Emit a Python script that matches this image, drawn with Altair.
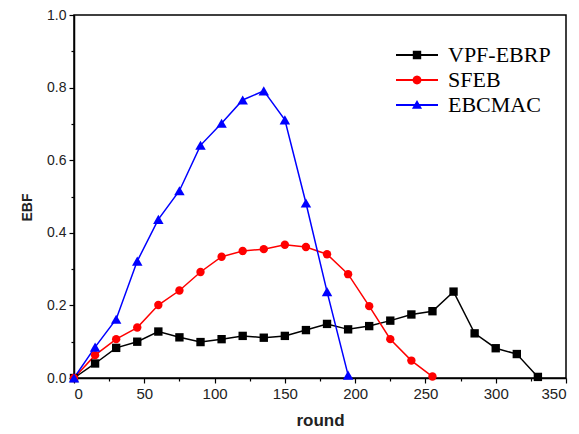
import math
import altair as alt
import pandas as pd

# ---- data ----
series_names = ["VPF-EBRP", "SFEB", "EBCMAC"]
series_colors = ["#000000", "#ff0000", "#0000ff"]

vpf_rounds = [0, 15, 30, 45, 60, 75, 90, 105, 120, 135, 150, 165, 180, 195,
              210, 225, 240, 255, 270, 285, 300, 315, 330]
vpf_ebf = [0.0, 0.040, 0.083, 0.100, 0.128, 0.112, 0.099, 0.107, 0.116, 0.111,
           0.116, 0.132, 0.149, 0.134, 0.143, 0.158, 0.175, 0.184, 0.238, 0.123,
           0.082, 0.066, 0.003]

sfeb_rounds = [0, 15, 30, 45, 60, 75, 90, 105, 120, 135, 150, 165, 180, 195,
               210, 225, 240, 255]
sfeb_ebf = [0.0, 0.063, 0.107, 0.139, 0.201, 0.241, 0.292, 0.334, 0.350, 0.355,
            0.367, 0.361, 0.341, 0.286, 0.198, 0.107, 0.048, 0.004]

ebcmac_rounds = [0, 15, 30, 45, 60, 75, 90, 105, 120, 135, 150, 165, 180, 195]
ebcmac_ebf = [0.0, 0.085, 0.162, 0.322, 0.437, 0.516, 0.641, 0.702, 0.766,
              0.791, 0.711, 0.482, 0.238, 0.008]

x_ticks = [0, 25, 50, 75, 100, 125, 150, 175, 200, 225, 250, 275, 300, 325, 350]
y_ticks = [0.0, 0.1, 0.2, 0.3, 0.4, 0.5, 0.6, 0.7, 0.8, 0.9, 1.0]

marker_shapes = ["square", "circle", "triangle-up"]
marker_sizes = [70, 70, 110]

# ---- legend glyphs: line segment + marker, drawn with M/L only ----
# symbol size 576 -> 1 path unit = 12 px
line_seg = "M-1.75,-0.08L1.75,-0.08L1.75,0.08L-1.75,0.08"


def poly(pts):
    return "M" + "L".join(f"{px:.3f},{py:.3f}" for px, py in pts)


sq = poly([(-0.35, -0.35), (0.35, -0.35), (0.35, 0.35), (-0.35, 0.35)])
circ = poly([(0.37 * math.cos(2 * math.pi * k / 16), 0.37 * math.sin(2 * math.pi * k / 16))
             for k in range(16)])
tri = poly([(0.0, -0.42), (0.42, 0.32), (-0.42, 0.32)])
legend_paths = [line_seg + sq, line_seg + circ, line_seg + tri]

rows = []
for name, rr, vv in [(series_names[0], vpf_rounds, vpf_ebf),
                     (series_names[1], sfeb_rounds, sfeb_ebf),
                     (series_names[2], ebcmac_rounds, ebcmac_ebf)]:
    for r, v in zip(rr, vv):
        rows.append({"series": name, "round": r, "EBF": v})
df = pd.DataFrame(rows)

x_enc = alt.X(
    "round:Q",
    scale=alt.Scale(domain=[0, 350], nice=False, zero=False),
    axis=alt.Axis(
        values=x_ticks,
        title="round",
        labelExpr="datum.value % 50 === 0 ? datum.label : ''",
        tickSize={"condition": {"test": "datum.value % 50 === 0", "value": 5}, "value": 3},
        grid=False,
        labelPadding=3,
        labelFontSize=15,
        titlePadding=11,
        titleFontSize=17,
    ),
)
y_enc = alt.Y(
    "EBF:Q",
    scale=alt.Scale(domain=[0, 1], nice=False),
    axis=alt.Axis(
        values=y_ticks,
        title="EBF",
        labelExpr="round(datum.value * 10) % 2 === 0 ? format(datum.value, '.1f') : ''",
        tickSize={"condition": {"test": "round(datum.value * 10) % 2 === 0", "value": 5}, "value": 3},
        grid=False,
        labelPadding=3,
        titleFontSize=14,
        titleX=-40,
        titleY=192,
    ),
)

base = alt.Chart(df).encode(x=x_enc, y=y_enc)

layers = []
for name, col in zip(series_names, series_colors):
    layers.append(
        base.mark_line(strokeWidth=1.5, color=col)
        .encode(order=alt.Order("round:Q"))
        .transform_filter(alt.datum.series == name)
    )
for name, col, shp, sz in zip(series_names, series_colors, marker_shapes, marker_sizes):
    layers.append(
        base.mark_point(filled=True, opacity=1, shape=shp, size=sz, color=col)
        .transform_filter(alt.datum.series == name)
    )


def make_legend():
    return alt.Legend(
        title=None,
        orient="none",
        legendX=331,
        legendY=28,
        symbolSize=576,
        symbolStrokeWidth=0,
        labelFont="Liberation Serif",
        labelFontSize=22,
        labelColor="black",
        labelOffset=19,
        rowPadding=2,
        padding=0,
    )


legend_layer = (
    base.mark_point(filled=True, opacity=1)
    .encode(
        color=alt.Color("series:N",
                        scale=alt.Scale(domain=series_names, range=series_colors),
                        legend=make_legend()),
        shape=alt.Shape("series:N",
                        scale=alt.Scale(domain=series_names, range=legend_paths),
                        legend=make_legend()),
    )
    .transform_filter("false")
)
layers.append(legend_layer)

chart = (
    alt.layer(*layers)
    .properties(
        width=492,
        height=363,
        autosize=alt.AutoSizeParams(type="none"),
        padding={"left": 66, "top": 7, "right": 5, "bottom": 50},
    )
    .configure_view(stroke="black", strokeWidth=1.5)
    .configure_axis(
        domainColor="black",
        domainWidth=1.5,
        tickColor="black",
        tickWidth=1.2,
        labelFont="Liberation Sans",
        labelFontSize=14,
        labelColor="#222222",
        titleFont="Liberation Sans",
        titleFontWeight="bold",
        titleColor="#222222",
    )
)

chart.save("out.html", embed_options={"renderer": "svg", "actions": False})
